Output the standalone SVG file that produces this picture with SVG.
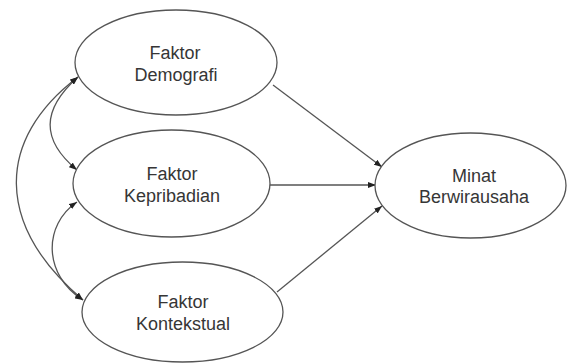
<svg xmlns="http://www.w3.org/2000/svg" width="567" height="364" viewBox="0 0 567 364">
<defs>
<style>
.node ellipse{fill:#fff;stroke:#555;stroke-width:1.3}
.node text{font-family:"Liberation Sans",Arial,sans-serif;font-size:18px;fill:#363636;text-anchor:middle}
.conn path{fill:none;stroke:#555;stroke-width:1.3}
</style>
<marker id="ah" viewBox="0 0 8 6" refX="8" refY="3" markerWidth="8" markerHeight="6" markerUnits="userSpaceOnUse" orient="auto-start-reverse">
<path d="M0,0 L8,3 L0,6 z" fill="#222"/>
</marker>
</defs>
<rect width="567" height="364" fill="#fff"/>
<g id="connectors" class="conn">
<path d="M273,85 L382,167" marker-end="url(#ah)"/>
<path d="M270,185 L376,185" marker-end="url(#ah)"/>
<path d="M277,292 L382,206" marker-end="url(#ah)"/>
<path d="M78,77 C-5,140 -5,225 83,300" marker-start="url(#ah)" marker-end="url(#ah)"/>
<path d="M78,77 C41,110 41,140 77,170" marker-start="url(#ah)" marker-end="url(#ah)"/>
<path d="M77,202 C43,225 43,275 83,300" marker-start="url(#ah)" marker-end="url(#ah)"/>
</g>
<g id="demografi" class="node">
<ellipse cx="176" cy="62.5" rx="101" ry="52.5"/>
<text x="175" y="59">Faktor</text>
<text x="176" y="81">Demografi</text>
</g>
<g id="kepribadian" class="node">
<ellipse cx="171.5" cy="183.5" rx="98.5" ry="53.5"/>
<text x="172" y="180">Faktor</text>
<text x="172" y="202">Kepribadian</text>
</g>
<g id="kontekstual" class="node">
<ellipse cx="182.5" cy="312" rx="100.5" ry="50"/>
<text x="183" y="308">Faktor</text>
<text x="183" y="330">Kontekstual</text>
</g>
<g id="minat" class="node">
<ellipse cx="470.5" cy="185.5" rx="95.5" ry="52.5"/>
<text x="474" y="182">Minat</text>
<text x="474" y="203">Berwirausaha</text>
</g>
</svg>
